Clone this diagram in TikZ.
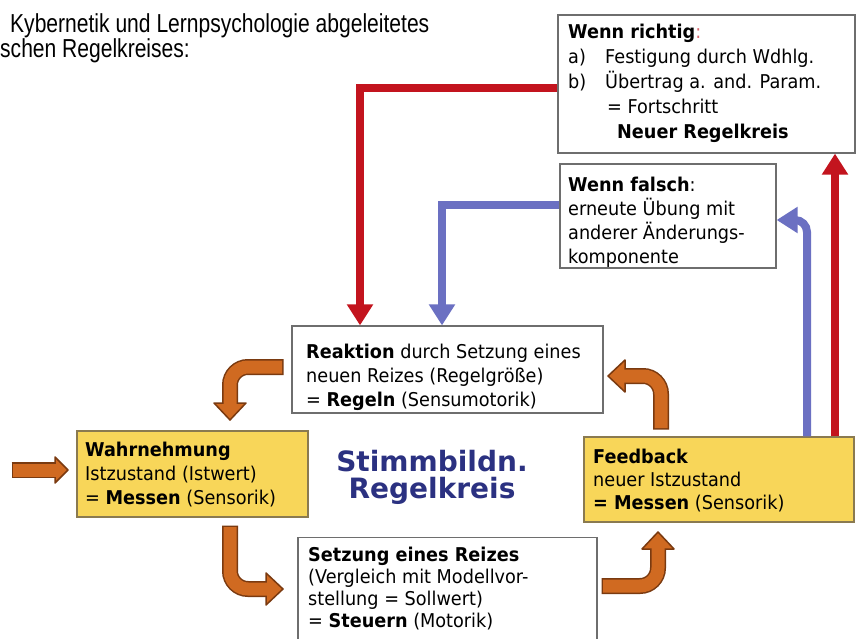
\documentclass[tikz,border=0pt]{standalone}
\usepackage{fontspec}
\setmainfont{DejaVu Sans}[FakeStretch=0.93]
\newfontfamily\titlefont{DejaVu Sans}
\newfontfamily\headfont{Liberation Sans}[FakeStretch=0.81]
\usetikzlibrary{arrows.meta,calc}
\definecolor{boxyellow}{HTML}{F8D659}
\definecolor{orangeA}{HTML}{D06A21}
\definecolor{orangeB}{HTML}{7A3A10}
\definecolor{redA}{HTML}{C3141E}
\definecolor{blueA}{HTML}{6B70C2}
\definecolor{navy}{HTML}{2B3181}
\definecolor{boxline}{HTML}{6E6E6E}
\definecolor{ybline}{HTML}{8A7A50}
\newcommand\bentarr[5]{%
  \draw[oout] ($(#1)!-1.5pt!(#2)$) -- (#2) -- (#3);
  \filldraw[ohead] ($(#3)!#5!90:(#4)$) -- (#4) -- ($(#3)!#5!-90:(#4)$) -- cycle;
  \draw[oin] (#1) -- (#2) -- ($(#3)!2pt!(#4)$);
}
\begin{document}
\begin{tikzpicture}[x=1pt,y=-1pt,
  wbox/.style={draw=boxline, line width=1.2pt, fill=white, inner sep=0pt},
  ybox/.style={draw=ybline, line width=1.2pt, fill=boxyellow, inner sep=0pt},
  txt/.style={inner sep=0pt, align=left, anchor=base west},
  oout/.style={draw=orangeB, line width=16pt, rounded corners=18pt},
  oin/.style={draw=orangeA, line width=13pt, rounded corners=18pt},
  ohead/.style={fill=orangeA, draw=orangeB, line width=1.5pt, line join=round},
  redarr/.style={draw=redA, line width=8pt, -{Triangle[width=25pt,length=21pt]}},
  bluearr/.style={draw=blueA, line width=8pt, -{Triangle[width=25pt,length=21pt]}},
]
\useasboundingbox[fill=white] (0,0) rectangle (857,639);

% header text
\node[txt, font=\headfont\fontsize{26}{25}\selectfont] (h1) at (10,33) {Kybernetik und Lernpsychologie abgeleitetes};
\node[txt, font=\headfont\fontsize{26}{25}\selectfont] (h2) at (0,58) {schen Regelkreises:};

% boxes
\node[wbox, minimum width=297pt, minimum height=138pt] (rich) at (706.5,84) {};
\node[wbox, minimum width=216pt, minimum height=104pt] (fals) at (668,216) {};
\node[wbox, minimum width=311pt, minimum height=87pt] (reak) at (447.5,369.5) {};
\node[ybox, minimum width=231pt, minimum height=86pt] (wahr) at (192.5,474) {};
\node[ybox, minimum width=270pt, minimum height=85pt] (feed) at (719,479.5) {};
\node[wbox, minimum width=299pt, minimum height=113pt, anchor=north] (setz) at (447.5,537) {};

% box texts (anchored at the baseline of the last line)
\node[txt, font=\fontsize{19}{25}\selectfont] (richt) at (568,139)
  {\textbf{Wenn richtig}\textcolor{redA!65}{:}\\
   \makebox[37pt][l]{a)}Festigung durch Wdhlg.\\
   \makebox[37pt][l]{b)}Übertrag a. and. Param.\\
   \hspace*{39pt}= Fortschritt\\
   \hspace*{49pt}\textbf{Neuer Regelkreis}};
\node[txt, font=\fontsize{19}{24.3}\selectfont] (falst) at (568,264)
  {\textbf{Wenn falsch}:\\erneute Übung mit\\anderer Änderungs-\\komponente};
\node[txt, font=\fontsize{19}{24}\selectfont] (reakt) at (306,406)
  {\textbf{Reaktion} durch Setzung eines\\neuen Reizes (Regelgröße)\\= \textbf{Regeln} (Sensumotorik)};
\node[txt, font=\fontsize{19}{24}\selectfont] (wahrt) at (85,504)
  {\textbf{Wahrnehmung}\\Istzustand (Istwert)\\= \textbf{Messen} (Sensorik)};
\node[txt, font=\fontsize{19}{23}\selectfont] (feedt) at (593,509)
  {\textbf{Feedback}\\neuer Istzustand\\\textbf{= Messen} (Sensorik)};
\node[txt, font=\fontsize{19}{22}\selectfont] (setzt) at (308,627)
  {\textbf{Setzung eines Reizes}\\(Vergleich mit Modellvor-\\stellung = Sollwert)\\= \textbf{Steuern} (Motorik)};

% title
\node[font=\titlefont\bfseries\fontsize{28}{27}\selectfont, text=navy, align=center, inner sep=0pt] (title) at (432,477) {Stimmbildn.\\Regelkreis};

% red and blue connectors
\coordinate (rc) at (360,88);
\draw[redarr] (rich.west|-rc) -- (rc) -- (rc|-reak.north);
\coordinate (bc) at (442,205);
\draw[bluearr] (fals.west|-bc) -- (bc) -- (bc|-reak.north);
\coordinate (rx) at (835,300);
\draw[redarr] (feed.north-|rx) -- (rich.south-|rx);
\coordinate (bx) at (807,220);
\draw[bluearr, rounded corners=12pt] (feed.north-|bx) -- (bx) -- (fals.east|-bx);

% orange arrows
\coordinate (i1) at (13,470); \coordinate (i2) at (40,470); \coordinate (i3) at (55,470); \coordinate (i4) at (68,470);
\bentarr{i1}{i2}{i3}{i4}{13pt}
\coordinate (a1) at (282,367); \coordinate (a2) at (230,367); \coordinate (a3) at (230,403); \coordinate (a4) at (230,420);
\bentarr{a1}{a2}{a3}{a4}{16pt}
\coordinate (b1) at (230,527); \coordinate (b2) at (230,589); \coordinate (b3) at (266,589); \coordinate (b4) at (283,589);
\bentarr{b1}{b2}{b3}{b4}{16pt}
\coordinate (c1) at (603,586); \coordinate (c2) at (658,586); \coordinate (c3) at (658,549); \coordinate (c4) at (658,532);
\bentarr{c1}{c2}{c3}{c4}{16pt}
\coordinate (d1) at (661,428); \coordinate (d2) at (661,376); \coordinate (d3) at (625,376); \coordinate (d4) at (608,376);
\bentarr{d1}{d2}{d3}{d4}{16pt}
\end{tikzpicture}
\end{document}
